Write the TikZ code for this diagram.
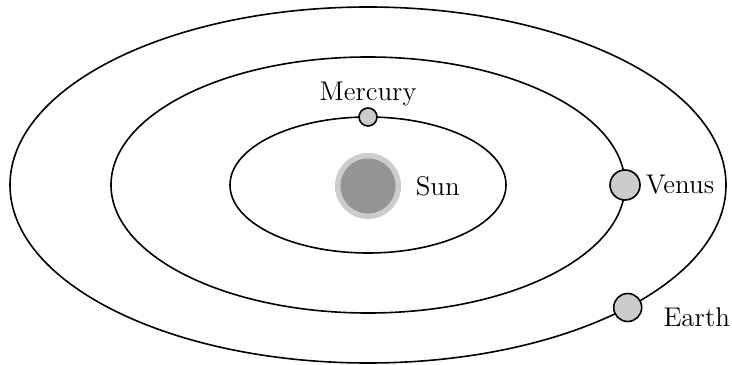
\documentclass[tikz,border=0pt]{standalone}
\usepackage{xcolor}
\usepackage{tikz}
\usetikzlibrary{positioning}

\begin{document}
\begin{tikzpicture}[
    x=0.5pt, y=0.5pt,
    orbit/.style={draw, line width=0.8pt},
    planet/.style={circle, draw, line width=0.8pt, fill=black!20, inner sep=0pt},
    planetlabel/.style={inner sep=3.3pt, font=\fontsize{13.5}{16}\selectfont}
]
\useasboundingbox (0,0) rectangle (732,364);

\draw[orbit] (368,179) ellipse [x radius=358, y radius=178];
\draw[orbit] (368,179) ellipse [x radius=257, y radius=128];
\draw[orbit] (368,179) ellipse [x radius=138, y radius=68];

\node[circle, fill=black!20, inner sep=0pt, minimum size=33pt] (sunring) at (368,178) {};
\node[circle, fill=black!42, inner sep=0pt, minimum size=27.5pt] (sun) at (368,178) {};

\node[planet, minimum size=9pt] (mercury) at (368,247) {};
\node[planet, minimum size=15pt] (venus) at (625,179) {};
\node[planet, minimum size=14pt] (earth) at (627.7,56.5) {};

\node[planetlabel, right=3.7pt of sunring] (sunlabel) {Sun};
\node[planetlabel, above=-3pt of mercury] (mercurylabel) {Mercury};
\node[planetlabel, right=-1pt of venus] (venuslabel) {Venus};
\node[planetlabel, right=7pt of earth, yshift=-5pt] (earthlabel) {Earth};

\end{tikzpicture}
\end{document}
